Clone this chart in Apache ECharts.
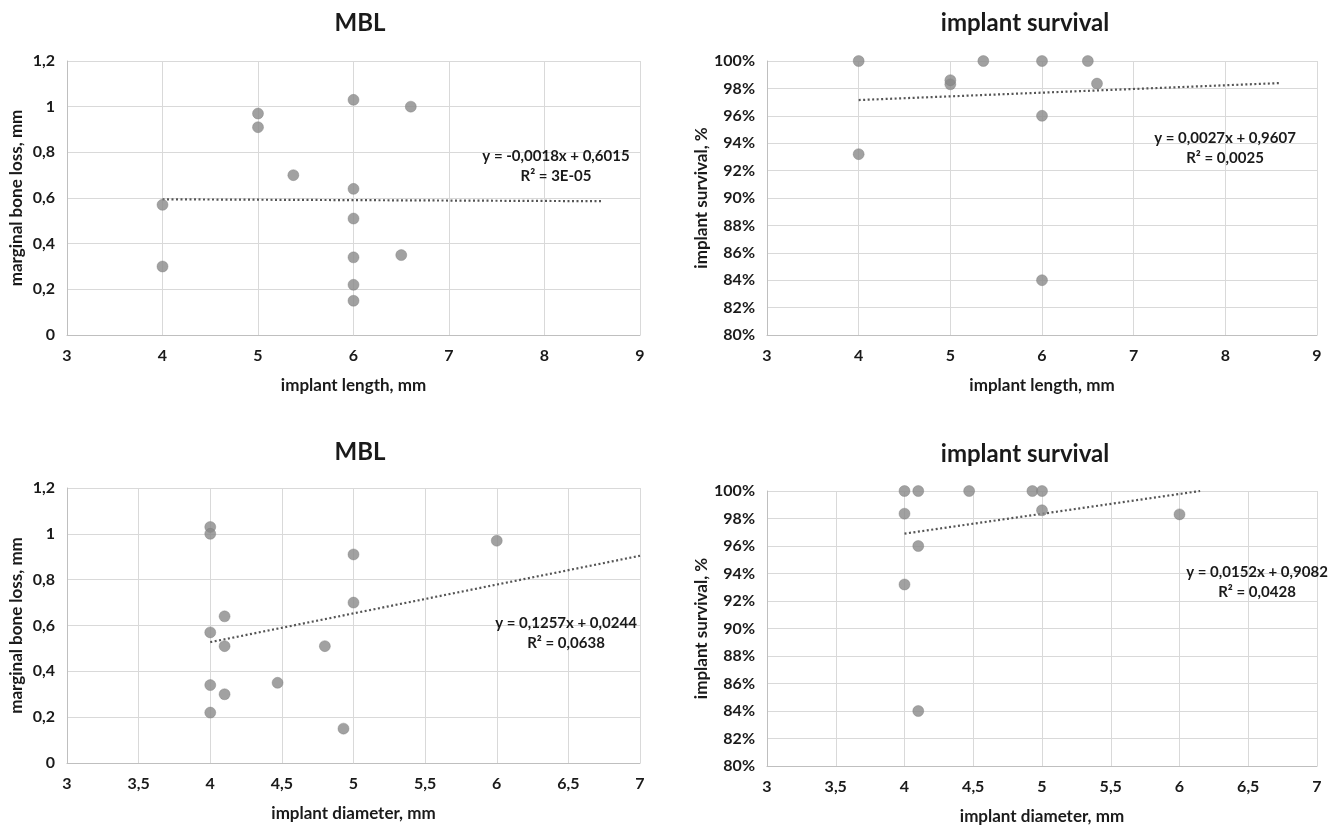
<!DOCTYPE html>
<html>
<head>
<meta charset="utf-8">
<script src="https://cdn.jsdelivr.net/npm/echarts@6/dist/echarts.min.js"></script>
<style>
html,body{margin:0;padding:0;background:#fff;}
#c{width:1333px;height:826px;}
</style>
</head>
<body>
<div id="c"></div>
<script>
// Panel A: MBL vs implant length
const lengthMBL_x = [4, 4, 5, 5, 5.37, 6, 6.6, 6, 6, 6, 6.5, 6, 6];
const lengthMBL_y = [0.57, 0.30, 0.97, 0.91, 0.70, 1.03, 1.00, 0.64, 0.51, 0.34, 0.35, 0.22, 0.15];
const lengthMBL_trendX = [4, 8.6];
const lengthMBL_trendY = [0.5943, 0.5860];

// Panel B: implant survival vs implant length (%)
const lengthSurv_x = [4, 4, 5, 5, 5.36, 6, 6.5, 6.6, 6, 6];
const lengthSurv_y = [100, 93.2, 98.3, 98.6, 100, 100, 100, 98.35, 96, 84];
const lengthSurv_trendX = [4, 8.6];
const lengthSurv_trendY = [97.15, 98.39];

// Panel C: MBL vs implant diameter
const diamMBL_x = [4, 4, 4, 4, 4, 4.1, 4.1, 4.1, 4.47, 4.8, 4.93, 5, 5, 6];
const diamMBL_y = [1.03, 1.00, 0.57, 0.34, 0.22, 0.64, 0.51, 0.30, 0.35, 0.51, 0.15, 0.91, 0.70, 0.97];
const diamMBL_trendX = [4, 7];
const diamMBL_trendY = [0.5272, 0.9043];

// Panel D: implant survival vs implant diameter (%)
const diamSurv_x = [4, 4.1, 4.47, 4.93, 5, 4, 5, 6, 4.1, 4, 4.1];
const diamSurv_y = [100, 100, 100, 100, 100, 98.35, 98.6, 98.3, 96, 93.2, 84];
const diamSurv_trendX = [4, 6.15];
const diamSurv_trendY = [96.9, 100];

const titles = ['MBL', 'implant survival', 'MBL', 'implant survival'];
const xNames = ['implant length, mm', 'implant length, mm', 'implant diameter, mm', 'implant diameter, mm'];
const yNames = ['marginal bone loss, mm', 'implant survival, %', 'marginal bone loss, mm', 'implant survival, %'];
const equations = [
  ['y = -0,0018x + 0,6015', 'R² = 3E-05'],
  ['y = 0,0027x + 0,9607', 'R² = 0,0025'],
  ['y = 0,1257x + 0,0244', 'R² = 0,0638'],
  ['y = 0,0152x + 0,9082', 'R² = 0,0428']
];

function zip(a, b) { return a.map((v, i) => [v, b[i]]); }

const FONT = 'Lato, "Open Sans", sans-serif';
const TXT = '#1a1a1a';
const GRIDC = '#d9d9d9';

const grids = [
  {left: 67, top: 61, width: 573, height: 274},
  {left: 767, top: 61, width: 550, height: 274},
  {left: 67, top: 488, width: 573, height: 275},
  {left: 767, top: 491, width: 550, height: 275}
];

function fmtComma(v) { return String(Math.round(v * 100) / 100).replace('.', ','); }

const xAxisCfg = [
  {min: 3, max: 9, interval: 1},
  {min: 3, max: 9, interval: 1},
  {min: 3, max: 7, interval: 0.5},
  {min: 3, max: 7, interval: 0.5}
];
const yAxisCfg = [
  {min: 0, max: 1.2, interval: 0.2, fmt: fmtComma, nameGap: 42},
  {min: 80, max: 100, interval: 2, fmt: v => v + '%', nameGap: 55},
  {min: 0, max: 1.2, interval: 0.2, fmt: fmtComma, nameGap: 42},
  {min: 80, max: 100, interval: 2, fmt: v => v + '%', nameGap: 55}
];

const points = [zip(lengthMBL_x, lengthMBL_y), zip(lengthSurv_x, lengthSurv_y), zip(diamMBL_x, diamMBL_y), zip(diamSurv_x, diamSurv_y)];
const trends = [zip(lengthMBL_trendX, lengthMBL_trendY), zip(lengthSurv_trendX, lengthSurv_trendY), zip(diamMBL_trendX, diamMBL_trendY), zip(diamSurv_trendX, diamSurv_trendY)];

const eqPos = [[556, 146], [1225, 128], [566, 613], [1257, 562]];

const option = {
  backgroundColor: '#ffffff',
  animation: false,
  textStyle: {fontFamily: FONT},
  title: [
    {text: titles[0], left: 355, top: 6, textAlign: 'center'},
    {text: titles[1], left: 1020, top: 6, textAlign: 'center'},
    {text: titles[2], left: 355, top: 435, textAlign: 'center'},
    {text: titles[3], left: 1020, top: 437, textAlign: 'center'}
  ].map(t => Object.assign(t, {textStyle: {fontFamily: FONT, fontSize: 24, fontWeight: 'bold', color: TXT}})),
  grid: grids,
  xAxis: grids.map((g, i) => ({
    type: 'value', gridIndex: i,
    min: xAxisCfg[i].min, max: xAxisCfg[i].max, interval: xAxisCfg[i].interval,
    name: xNames[i], nameLocation: 'middle', nameGap: 42,
    nameTextStyle: {fontFamily: FONT, fontSize: 17, fontWeight: 'bold', color: TXT},
    axisLine: {show: true, lineStyle: {color: '#bfbfbf', width: 1}},
    axisTick: {show: false},
    axisLabel: {formatter: fmtComma, fontFamily: FONT, fontSize: 16, fontWeight: 'bold', color: TXT, margin: 13},
    splitLine: {show: true, lineStyle: {color: GRIDC, width: 1}}
  })),
  yAxis: grids.map((g, i) => ({
    type: 'value', gridIndex: i,
    min: yAxisCfg[i].min, max: yAxisCfg[i].max, interval: yAxisCfg[i].interval,
    name: yNames[i], nameLocation: 'middle', nameGap: yAxisCfg[i].nameGap,
    nameTextStyle: {fontFamily: FONT, fontSize: 17, fontWeight: 'bold', color: TXT},
    axisLine: {show: true, lineStyle: {color: '#bfbfbf', width: 1}},
    axisTick: {show: false},
    axisLabel: {formatter: yAxisCfg[i].fmt, fontFamily: FONT, fontSize: 16, fontWeight: 'bold', color: TXT, margin: 12},
    splitLine: {show: true, lineStyle: {color: GRIDC, width: 1}}
  })),
  series: [].concat(...grids.map((g, i) => [
    {
      type: 'line', xAxisIndex: i, yAxisIndex: i, data: trends[i],
      symbol: 'none', clip: false,
      lineStyle: {color: '#555555', width: 2.2, type: [2, 2.5]},
      z: 2
    },
    {
      type: 'scatter', xAxisIndex: i, yAxisIndex: i, data: points[i],
      symbol: 'circle', symbolSize: 11, clip: false,
      itemStyle: {color: '#8a8a8a', borderColor: '#7a7a7a', borderWidth: 0.5},
      z: 3
    }
  ])),
  graphic: eqPos.map((p, i) => ({
    type: 'text', x: p[0], y: p[1],
    style: {
      text: equations[i][0] + '\n' + equations[i][1],
      fontFamily: FONT, fontSize: 15, fontWeight: 'bold', fill: TXT,
      textAlign: 'center', lineHeight: 20
    },
    z: 10
  }))
};

const chart = echarts.init(document.getElementById('c'), null, {renderer: 'canvas'});
chart.setOption(option);
</script>
</body>
</html>
